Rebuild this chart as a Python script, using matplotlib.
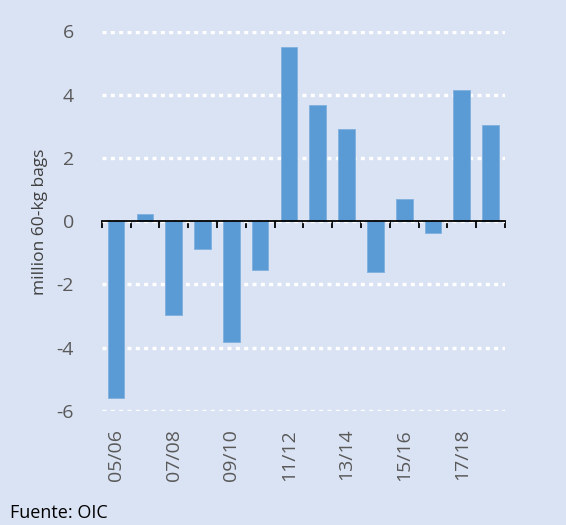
import matplotlib
matplotlib.use('Agg')
import matplotlib.pyplot as plt
import numpy as np

# crop years and balance (million 60-kg bags)
seasons = ['05/06', '06/07', '07/08', '08/09', '09/10', '10/11', '11/12',
           '12/13', '13/14', '14/15', '15/16', '16/17', '17/18', '18/19']
balance = [-5.6, 0.23, -2.96, -0.87, -3.84, -1.56, 5.5,
           3.66, 2.93, -1.6, 0.69, -0.38, 4.14, 3.04]
yticks = [-6, -4, -2, 0, 2, 4, 6]

bg = '#DAE3F3'
plt.rcParams['font.family'] = ['Open Sans', 'DejaVu Sans']

fig = plt.figure(figsize=(5.66, 5.25), dpi=100, facecolor=bg)
ax = fig.add_axes([0.1797, 0.2177, 0.7125, 0.7223], facecolor=bg)

x = np.arange(len(seasons))
ax.bar(x, balance, width=0.58, color='#5B9BD5', edgecolor='#7FB0DE',
       linewidth=0.6, zorder=2)

ax.set_xlim(-0.5, len(seasons) - 0.5)
ax.set_ylim(-6, 6)
ax.set_yticks(yticks)
ax.set_yticklabels([str(v) for v in yticks])
ax.yaxis.grid(True, color='white', linewidth=2.4, linestyle=(0, (1.2, 1.3)))
ax.set_axisbelow(True)

for s in ['left', 'right', 'bottom']:
    ax.spines[s].set_visible(False)
ax.spines['top'].set_position(('data', 0))
ax.spines['top'].set_color('black')
ax.spines['top'].set_linewidth(1.3)
ax.spines['top'].set_zorder(3)

ax.set_xticks(x[::2])
ax.set_xticklabels(seasons[::2], rotation=90)
ax.set_xticks(np.arange(-0.5, len(seasons)), minor=True)
ax.tick_params(axis='x', which='major', bottom=True, top=False, length=0,
               pad=13, labelsize=14, labelcolor='#595959')
ax.tick_params(axis='x', which='minor', bottom=False, top=True,
               direction='in', length=5, width=1.3, color='black')
ax.tick_params(axis='y', length=0, pad=20, labelsize=14, labelcolor='#595959')

fig.text(0.0707, 0.577, 'million 60-kg bags', rotation=90, ha='center',
         va='center', fontsize=12.5, color='#404040')

fig.text(0.018, 0.006, 'Fuente: OIC', fontsize=13, color='black', va='bottom')

fig.savefig('out.png', dpi=100, facecolor=bg)
